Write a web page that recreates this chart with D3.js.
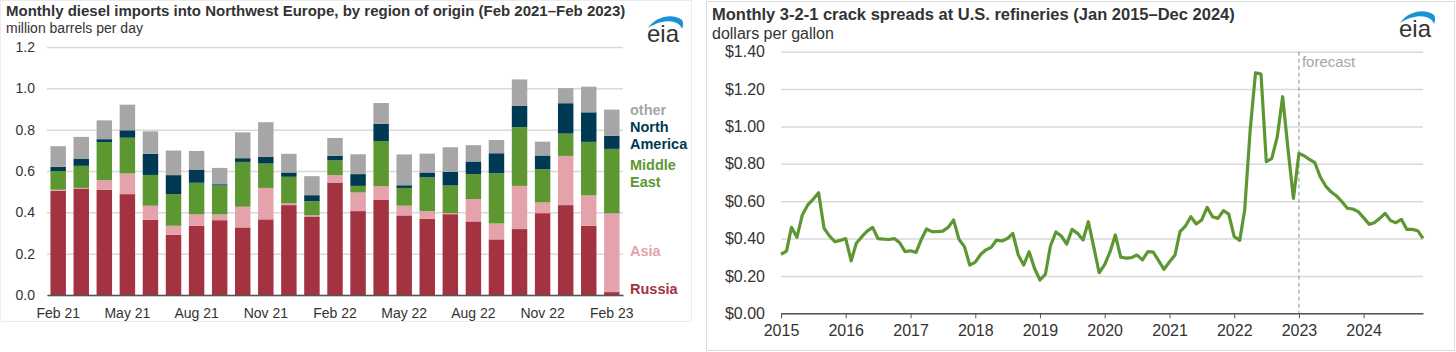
<!DOCTYPE html>
<html lang="en">
<head>
    <meta charset="UTF-8">
    <title>EIA diesel imports and crack spreads</title>
    <script src="https://cdnjs.cloudflare.com/ajax/libs/d3/7.8.5/d3.min.js"></script>
    <style>
        body { margin: 0; background: #fff; }
        svg text { font-family: "Liberation Sans", Arial, sans-serif; }
    </style>
</head>
<body>
    <script>
        // ---- left chart data (million barrels per day) ----
        const months = ['Feb 21', 'Mar 21', 'Apr 21', 'May 21', 'Jun 21', 'Jul 21', 'Aug 21', 'Sep 21', 'Oct 21', 'Nov 21', 'Dec 21', 'Jan 22',
            'Feb 22', 'Mar 22', 'Apr 22', 'May 22', 'Jun 22', 'Jul 22', 'Aug 22', 'Sep 22', 'Oct 22', 'Nov 22', 'Dec 22', 'Jan 23', 'Feb 23']
        const russia = [0.504, 0.515, 0.509, 0.488, 0.364, 0.291, 0.335, 0.362, 0.327, 0.366, 0.435, 0.380, 0.544,
            0.406, 0.460, 0.385, 0.369, 0.391, 0.356, 0.269, 0.319, 0.396, 0.435, 0.335, 0.014]
        const asia = [0.005, 0.003, 0.047, 0.100, 0.068, 0.044, 0.055, 0.028, 0.100, 0.152, 0.008, 0.006, 0.036,
            0.090, 0.067, 0.047, 0.037, 0.005, 0.108, 0.077, 0.209, 0.052, 0.238, 0.147, 0.381]
        const middleEast = [0.091, 0.107, 0.184, 0.173, 0.149, 0.153, 0.153, 0.140, 0.217, 0.118, 0.129, 0.068, 0.072,
            0.032, 0.218, 0.086, 0.163, 0.134, 0.121, 0.243, 0.284, 0.161, 0.108, 0.259, 0.312]
        const northAmerica = [0.020, 0.035, 0.014, 0.036, 0.102, 0.092, 0.064, 0.006, 0.018, 0.032, 0.021, 0.029, 0.021,
            0.057, 0.084, 0.013, 0.024, 0.066, 0.061, 0.097, 0.104, 0.066, 0.147, 0.143, 0.064]
        const other = [0.100, 0.105, 0.091, 0.124, 0.109, 0.119, 0.090, 0.079, 0.125, 0.168, 0.090, 0.092, 0.087,
            0.096, 0.100, 0.149, 0.091, 0.119, 0.079, 0.064, 0.127, 0.067, 0.073, 0.124, 0.126]
        const regions = ['Russia', 'Asia', 'Middle East', 'North America', 'other']
        const barTicks = [0, 0.2, 0.4, 0.6, 0.8, 1.0, 1.2]

        // ---- right chart data (dollars per gallon, Jan 2015 - Dec 2024) ----
        const crackYears = [2015, 2016, 2017, 2018, 2019, 2020, 2021, 2022, 2023, 2024]
        const crackSpread = [
            0.316, 0.333, 0.460, 0.407, 0.526, 0.580, 0.610, 0.645, 0.455, 0.414, 0.383, 0.390,
            0.400, 0.281, 0.375, 0.410, 0.440, 0.460, 0.400, 0.397, 0.395, 0.400, 0.377, 0.330,
            0.335, 0.326, 0.392, 0.451, 0.437, 0.437, 0.440, 0.460, 0.499, 0.396, 0.357, 0.258,
            0.274, 0.316, 0.339, 0.353, 0.392, 0.387, 0.400, 0.428, 0.312, 0.258, 0.330, 0.241,
            0.178, 0.210, 0.360, 0.435, 0.414, 0.370, 0.449, 0.428, 0.392, 0.490, 0.353, 0.217,
            0.260, 0.330, 0.419, 0.300, 0.295, 0.298, 0.312, 0.286, 0.330, 0.328, 0.281, 0.235,
            0.276, 0.312, 0.437, 0.467, 0.517, 0.478, 0.499, 0.567, 0.517, 0.508, 0.549, 0.531,
            0.410, 0.390, 0.553, 0.981, 1.287, 1.280, 0.811, 0.829, 0.945, 1.159, 0.874, 0.615,
            0.856, 0.842, 0.824, 0.806, 0.731, 0.681, 0.650, 0.628, 0.597, 0.562, 0.558, 0.544,
            0.512, 0.476, 0.485, 0.508, 0.535, 0.496, 0.485, 0.503, 0.449, 0.449, 0.442, 0.401
        ]
        const crackTicks = [0, 0.2, 0.4, 0.6, 0.8, 1.0, 1.2, 1.4]
        const forecastStart = new Date(2023, 0, 1)

        const colors = {
            'Russia': '#a33340',
            'Asia': '#e4a2ab',
            'Middle East': '#5d9732',
            'North America': '#003953',
            'other': '#a6a6a6'
        }
        const textColor = '#333'
        const gridColor = '#d9d9d9'

        const svg = d3.select('body')
            .append('svg')
                .attr('width', 1456)
                .attr('height', 352)

        // small eia logo: swoosh + lettering
        const drawLogo = (x, y) => {
            const g = svg.append('g').attr('transform', `translate(${x},${y})`)
            g.append('path')
                .attr('d', 'M1,-14 C9,-26 26,-29 35,-22 C37,-19 36,-16 35,-13 C32,-22 17,-24 1,-14 Z')
                .attr('fill', '#1a93d3')
            g.append('text')
                .attr('x', 0)
                .attr('y', 0)
                .attr('fill', textColor)
                .style('font-size', '24px')
                .text('eia')
        }

        function drawBars() {
            const left = 47, right = 623, top = 47, bottom = 295

            // panel frame
            svg.append('rect')
                .attr('x', 0.5).attr('y', 0.5)
                .attr('width', 691).attr('height', 321)
                .attr('fill', 'none')
                .attr('stroke', '#ececec')

            svg.append('text')
                .attr('x', 6).attr('y', 16)
                .attr('fill', textColor)
                .style('font-size', '15px')
                .style('font-weight', 'bold')
                .text('Monthly diesel imports into Northwest Europe, by region of origin (Feb 2021\u2013Feb 2023)')
            svg.append('text')
                .attr('x', 6).attr('y', 33)
                .attr('fill', textColor)
                .style('font-size', '14px')
                .text('million barrels per day')

            drawLogo(647, 42)

            const xScale = d3.scaleBand()
                .domain(months)
                .range([left, right])
                .paddingInner(0.33)
                .paddingOuter(0.15)
            const yScale = d3.scaleLinear()
                .domain([0, 1.2])
                .range([bottom, top])

            // gridlines + y labels
            const yAxis = svg.append('g')
                .attr('transform', `translate(${left},0)`)
                .call(d3.axisLeft(yScale).tickValues(barTicks).tickFormat(d3.format('.1f')).tickSize(-(right - left)).tickPadding(12))
            yAxis.select('.domain').remove()
            yAxis.selectAll('.tick line').attr('stroke', gridColor).attr('stroke-width', 1.5)
            yAxis.selectAll('.tick text')
                .attr('fill', textColor)
                .style('font-size', '14px')
                .attr('text-anchor', 'end')

            // stacked bars
            const table = months.map((m, i) => ({
                month: m,
                'Russia': russia[i],
                'Asia': asia[i],
                'Middle East': middleEast[i],
                'North America': northAmerica[i],
                'other': other[i]
            }))
            const stacked = d3.stack().keys(regions)(table)

            svg.append('g')
                .selectAll('g')
                .data(stacked)
                .join('g')
                    .attr('fill', d => colors[d.key])
                .selectAll('rect')
                .data(d => d)
                .join('rect')
                    .attr('x', d => xScale(d.data.month))
                    .attr('width', xScale.bandwidth())
                    .attr('y', d => yScale(d[1]))
                    .attr('height', d => yScale(d[0]) - yScale(d[1]))

            // x axis (label every third month)
            const xAxis = svg.append('g')
                .attr('transform', `translate(0,${bottom})`)
                .call(d3.axisBottom(xScale)
                    .tickValues(months.filter((m, i) => i % 3 === 0))
                    .tickSize(0)
                    .tickPadding(13))
            xAxis.select('.domain').attr('stroke', '#555').attr('stroke-width', 1.5)
            xAxis.selectAll('.tick text')
                .attr('fill', textColor)
                .style('font-size', '14px')

            // legend on the right end
            const legendLines = [
                { key: 'other', lines: ['other'], y: 115 },
                { key: 'North America', lines: ['North', 'America'], y: 132 },
                { key: 'Middle East', lines: ['Middle', 'East'], y: 170 },
                { key: 'Asia', lines: ['Asia'], y: 256 },
                { key: 'Russia', lines: ['Russia'], y: 294 }
            ]
            legendLines.forEach(item => {
                const t = svg.append('text')
                    .attr('x', 630)
                    .attr('y', item.y)
                    .attr('fill', colors[item.key])
                    .style('font-size', '14.5px')
                    .style('font-weight', 'bold')
                item.lines.forEach((line, j) => {
                    t.append('tspan')
                        .attr('x', 630)
                        .attr('dy', j === 0 ? 0 : 17)
                        .text(line)
                })
            })
        }

        function drawLine() {
            const left = 781, right = 1423, top = 51.7, bottom = 313.3

            svg.append('rect')
                .attr('x', 706.5).attr('y', 1.5)
                .attr('width', 748).attr('height', 349)
                .attr('fill', 'none')
                .attr('stroke', '#dcdcdc')

            svg.append('text')
                .attr('x', 712).attr('y', 20)
                .attr('fill', textColor)
                .style('font-size', '16.5px')
                .style('font-weight', 'bold')
                .text('Monthly 3-2-1 crack spreads at U.S. refineries (Jan 2015\u2013Dec 2024)')
            svg.append('text')
                .attr('x', 712).attr('y', 39)
                .attr('fill', textColor)
                .style('font-size', '16px')
                .text('dollars per gallon')

            drawLogo(1399, 37)

            const dates = crackSpread.map((v, i) => new Date(crackYears[0], i, 1))
            const xScale = d3.scaleTime()
                .domain([dates[0], dates[dates.length - 1]])
                .range([left, right])
            const yScale = d3.scaleLinear()
                .domain([0, 1.4])
                .range([bottom, top])

            const yAxis = svg.append('g')
                .attr('transform', `translate(${left},0)`)
                .call(d3.axisLeft(yScale).tickValues(crackTicks).tickFormat(d3.format('$.2f')).tickSize(-(right - left)).tickPadding(16))
            yAxis.select('.domain').remove()
            yAxis.selectAll('.tick line').attr('stroke', gridColor).attr('stroke-width', 1.5)
            yAxis.selectAll('.tick text')
                .attr('fill', textColor)
                .style('font-size', '16px')

            const xAxis = svg.append('g')
                .attr('transform', `translate(0,${bottom})`)
                .call(d3.axisBottom(xScale)
                    .tickValues(crackYears.map(y => new Date(y, 0, 1)))
                    .tickFormat(d3.timeFormat('%Y'))
                    .tickSize(5)
                    .tickSizeOuter(0)
                    .tickPadding(6))
            xAxis.select('.domain').attr('stroke', '#555').attr('stroke-width', 1.5)
            xAxis.selectAll('.tick line').attr('stroke', '#555')
            xAxis.selectAll('.tick text')
                .attr('fill', textColor)
                .style('font-size', '16px')

            // forecast divider
            svg.append('line')
                .attr('x1', xScale(forecastStart)).attr('x2', xScale(forecastStart))
                .attr('y1', top).attr('y2', bottom)
                .attr('stroke', '#8c8c8c')
                .attr('stroke-dasharray', '4,3')
            svg.append('text')
                .attr('x', xScale(forecastStart) + 3)
                .attr('y', top + 15)
                .attr('fill', '#a6a6a6')
                .style('font-size', '15px')
                .text('forecast')

            const line = d3.line()
                .x((d, i) => xScale(dates[i]))
                .y(d => yScale(d))
            svg.append('path')
                .datum(crackSpread)
                .attr('d', line)
                .attr('fill', 'none')
                .attr('stroke', '#5d9732')
                .attr('stroke-width', 3.2)
                .attr('stroke-linejoin', 'round')
        }

        drawBars()
        drawLine()
    </script>
</body>
</html>
